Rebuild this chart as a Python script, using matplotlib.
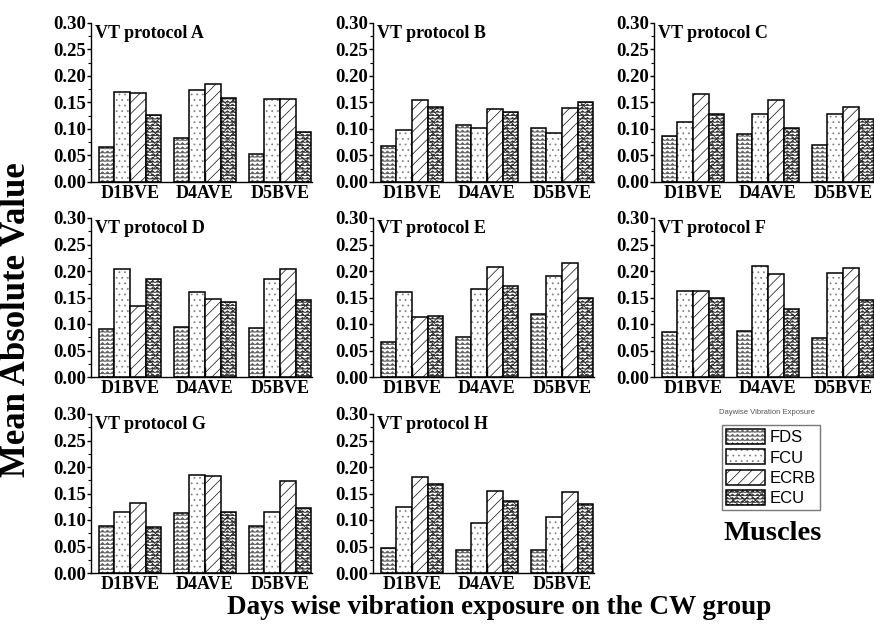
import numpy as np
import matplotlib
matplotlib.use("Agg")
import matplotlib.pyplot as plt
import matplotlib.hatch as mhatch
from matplotlib.path import Path
from matplotlib.legend_handler import HandlerTuple


# ---- custom zig-zag hatch (replaces the horizontal '-' hatch) ----
class ZigZagHatch(mhatch.HatchPatternBase):
    def __init__(self, hatch, density):
        self.num_lines = int((hatch.count('-') + hatch.count('+')) * density)
        self.nz = 20
        self.num_vertices = self.num_lines * (2 * self.nz + 1)

    def set_vertices_and_codes(self, vertices, codes):
        if self.num_lines == 0:
            return
        steps, stepsize = np.linspace(0.0, 1.0, self.num_lines, False, retstep=True)
        steps += stepsize / 2.0
        npts = 2 * self.nz + 1
        xs = np.linspace(0.0, 1.0, npts)
        amp = stepsize * 0.28
        off = np.where(np.arange(npts) % 2 == 0, -amp, amp)
        for i, s in enumerate(steps):
            sl = slice(i * npts, (i + 1) * npts)
            vertices[sl, 0] = xs
            vertices[sl, 1] = s + off
            codes[sl] = Path.LINETO
            codes[i * npts] = Path.MOVETO


mhatch._hatch_types = [ZigZagHatch if t is mhatch.HorizontalHatch else t
                       for t in mhatch._hatch_types]

plt.rcParams['hatch.linewidth'] = 0.55

# ---------------- data ----------------
days = ["D1BVE", "D4AVE", "D5BVE"]
muscles = ["FDS", "FCU", "ECRB", "ECU"]
protocols = ["A", "B", "C", "D", "E", "F", "G", "H"]

# values per protocol: rows = days, cols = muscles (FDS, FCU, ECRB, ECU)
vt_A = [[0.066, 0.170, 0.168, 0.127], [0.083, 0.174, 0.184, 0.158], [0.052, 0.156, 0.157, 0.095]]
vt_B = [[0.068, 0.098, 0.155, 0.141], [0.107, 0.101, 0.137, 0.133], [0.101, 0.092, 0.139, 0.150]]
vt_C = [[0.086, 0.114, 0.166, 0.128], [0.090, 0.128, 0.154, 0.101], [0.070, 0.128, 0.142, 0.119]]
vt_D = [[0.090, 0.203, 0.134, 0.184], [0.095, 0.161, 0.147, 0.141], [0.092, 0.184, 0.203, 0.145]]
vt_E = [[0.066, 0.161, 0.114, 0.115], [0.075, 0.166, 0.208, 0.171], [0.119, 0.191, 0.216, 0.150]]
vt_F = [[0.084, 0.163, 0.163, 0.149], [0.086, 0.209, 0.195, 0.128], [0.074, 0.197, 0.206, 0.145]]
vt_G = [[0.088, 0.115, 0.133, 0.087], [0.114, 0.185, 0.183, 0.116], [0.089, 0.116, 0.173, 0.122]]
vt_H = [[0.047, 0.124, 0.181, 0.167], [0.043, 0.094, 0.155, 0.136], [0.044, 0.105, 0.152, 0.130]]
data = [vt_A, vt_B, vt_C, vt_D, vt_E, vt_F, vt_G, vt_H]

yticks = [0.00, 0.05, 0.10, 0.15, 0.20, 0.25, 0.30]

# ---------------- style ----------------
hatches = ['----', '...', '///', '-----xxx']
hatch_colors = ['#606060', '#808080', '#202020', '#303030']

serif = ['Liberation Serif', 'DejaVu Serif']
sans = ['Liberation Sans', 'DejaVu Sans']

W, H = 874, 633
fig = plt.figure(figsize=(W / 100, H / 100), dpi=100)

col_left = [91, 373, 654]
row_bottom = [182, 377, 573]
ax_w, ax_h = 221, 159

width = 0.207
x = np.arange(len(days))
legend_handles = None

for k, (p, vals) in enumerate(zip(protocols, data)):
    r, c = divmod(k, 3)
    ax = fig.add_axes([col_left[c] / W, 1 - row_bottom[r] / H, ax_w / W, ax_h / H])
    vals = np.array(vals)
    handles = []
    for m in range(len(muscles)):
        pos = x + (m - 1.5) * width
        b1 = ax.bar(pos, vals[:, m], width, color='white', edgecolor=hatch_colors[m],
                    hatch=hatches[m], linewidth=0)
        b2 = ax.bar(pos, vals[:, m], width, fill=False, edgecolor='black', linewidth=1.1)
        handles.append((b1[0], b2[0]))
    if legend_handles is None:
        legend_handles = handles
    ax.set_xlim(-0.52, 2.427)
    ax.set_ylim(0, 0.30)
    ax.set_yticks(yticks)
    ax.set_yticklabels([f"{v:.2f}" for v in yticks], fontfamily=serif,
                       fontweight='bold', fontsize=13.5)
    ax.set_yticks(np.arange(0.025, 0.30, 0.05), minor=True)
    ax.set_xticks(x)
    ax.set_xticklabels(days, fontfamily=serif, fontweight='bold', fontsize=13)
    ax.tick_params(axis='x', direction='in', length=7, width=1, pad=2)
    ax.tick_params(axis='y', which='major', direction='out', length=3, width=1, pad=0.5)
    ax.tick_params(axis='y', which='minor', direction='out', length=2, width=0.8)
    for s in ['top', 'right']:
        ax.spines[s].set_visible(False)
    for s in ['left', 'bottom']:
        ax.spines[s].set_linewidth(1.0)
    ax.text(0.02, 0.935, f"VT protocol {p}", transform=ax.transAxes,
            fontfamily=serif, fontweight='bold', fontsize=13, va='center', ha='left')

# legend
leg = fig.legend(legend_handles, muscles, handler_map={tuple: HandlerTuple(ndivide=1)},
                 loc='upper left', bbox_to_anchor=(722 / W, 1 - 425 / H),
                 prop={'family': sans, 'size': 12}, frameon=True, fancybox=False,
                 edgecolor='#555555', handlelength=2.3, handleheight=1.0,
                 labelspacing=0.25, handletextpad=0.3, borderpad=0.25,
                 borderaxespad=0)
leg.get_frame().set_linewidth(1.0)

fig.text(767 / W, 1 - 412 / H, "Daywise Vibration Exposure", fontsize=5.5,
         color='#555555', family=sans, ha='center', va='center')
fig.text(773 / W, 1 - 533 / H, "Muscles", fontsize=20.5, fontweight='bold',
         family=serif, ha='center', va='center')

fig.text(17 / W, 1 - 320 / H, "Mean Absolute Value", rotation=90, fontsize=25,
         fontweight='bold', family=serif, ha='center', va='center')
fig.text(499 / W, 1 - 608 / H, "Days wise vibration exposure on the CW group",
         fontsize=19.5, fontweight='bold', family=serif, ha='center', va='center')

fig.savefig("out.png", dpi=100)
